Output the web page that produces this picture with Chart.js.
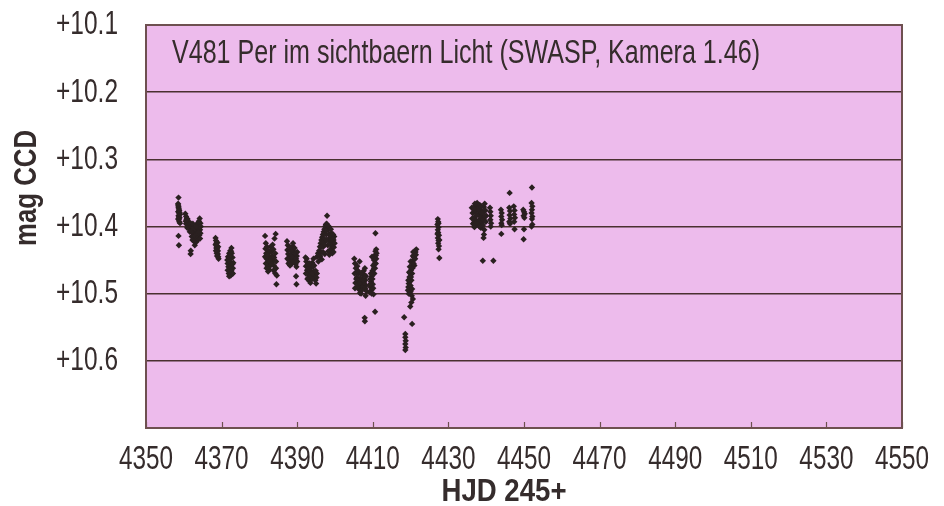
<!DOCTYPE html>
<html>
<head>
<meta charset="utf-8">
<script src="https://cdn.jsdelivr.net/npm/chart.js@4.4.1/dist/chart.umd.min.js"></script>
<style>
  body { margin: 0; background: #ffffff; }
  #wrap { width: 944px; height: 506px; }
</style>
</head>
<body>
<div id="wrap"><canvas id="myChart" width="944" height="506"></canvas></div>
<script>
'use strict';

let obs = [
  // night 4358/59
  [4358.6,10.357],[4358.5,10.366],[4358.6,10.370],[4358.7,10.374],[4358.5,10.378],[4358.8,10.381],[4358.6,10.384],[4358.9,10.387],
  [4358.7,10.390],[4358.8,10.393],[4359.0,10.395],[4358.6,10.372],[4358.9,10.379],[4358.6,10.414],[4358.7,10.428],
  [4358.5,10.368],[4358.8,10.376],[4358.7,10.386],[4358.5,10.389],[4359.0,10.382],
  // 4360 - 4364
  [4360.4,10.381],[4360.6,10.385],[4360.8,10.388],[4360.5,10.392],[4360.9,10.395],[4361.1,10.398],[4361.3,10.401],[4361.5,10.404],
  [4360.7,10.390],[4361.2,10.393],[4360.6,10.396],[4361.0,10.389],[4361.4,10.396],[4360.9,10.402],
  [4361.8,10.395],[4362.0,10.400],[4362.2,10.405],[4362.4,10.410],[4362.6,10.414],[4362.8,10.418],[4363.0,10.421],[4363.2,10.416],
  [4363.4,10.410],[4363.6,10.404],[4363.8,10.398],[4364.0,10.392],[4364.2,10.388],[4364.4,10.395],[4364.3,10.405],[4364.1,10.413],
  [4363.9,10.419],[4362.5,10.402],[4363.1,10.408],[4363.5,10.396],[4362.9,10.412],[4361.6,10.408],[4362.1,10.415],[4363.3,10.423],
  [4364.5,10.400],[4362.9,10.428],[4361.8,10.441],[4361.85,10.436],
  [4362.3,10.420],[4362.7,10.422],[4363.0,10.414],[4363.7,10.412],[4364.4,10.410],[4364.0,10.402],[4363.6,10.418],[4362.4,10.396],
  [4362.0,10.408],[4363.2,10.400],[4363.9,10.408],[4364.3,10.418],
  // 4368 - 4373
  [4368.4,10.417],[4368.5,10.421],[4368.6,10.425],[4368.7,10.429],[4368.8,10.433],[4368.9,10.437],[4369.0,10.441],[4369.1,10.445],
  [4369.2,10.448],[4368.6,10.432],[4368.9,10.424],[4369.0,10.436],[4368.7,10.440],
  [4368.5,10.436],[4368.8,10.444],[4369.1,10.430],[4368.4,10.427],
  [4372.6,10.432],[4372.3,10.436],[4372.0,10.440],[4371.7,10.445],[4371.5,10.450],[4371.6,10.455],[4371.8,10.460],[4372.0,10.465],
  [4372.2,10.469],[4372.4,10.473],[4372.8,10.470],[4373.0,10.462],[4373.1,10.454],[4372.9,10.446],[4372.7,10.440],[4372.4,10.448],
  [4372.1,10.452],[4372.5,10.458],[4372.3,10.463],[4371.9,10.470],
  [4371.6,10.465],[4372.0,10.474],[4372.6,10.466],[4372.9,10.456],[4372.2,10.444],[4371.8,10.449],[4373.0,10.470],[4372.5,10.437],
  // 4381 - 4385
  [4381.5,10.414],[4381.7,10.425],[4381.6,10.433],[4381.8,10.440],[4381.9,10.448],[4382.0,10.455],[4382.2,10.460],[4382.4,10.452],
  [4382.6,10.445],[4382.8,10.438],[4383.0,10.430],[4383.2,10.437],[4383.4,10.444],[4383.6,10.451],[4383.8,10.458],[4384.0,10.464],
  [4384.2,10.470],[4384.4,10.462],[4382.3,10.467],[4383.1,10.448],[4382.5,10.436],[4383.5,10.427],[4384.0,10.418],[4384.3,10.411],
  [4383.7,10.434],[4382.9,10.458],[4384.5,10.486],[4384.6,10.473],
  [4381.5,10.445],[4381.7,10.455],[4382.1,10.442],[4382.7,10.452],[4383.3,10.456],[4383.9,10.446],[4384.2,10.440],[4384.4,10.452],
  [4382.0,10.430],[4383.8,10.466],[4382.6,10.464],[4381.9,10.462],
  // 4387 - 4390
  [4387.3,10.422],[4387.5,10.428],[4387.4,10.435],[4387.6,10.441],[4387.8,10.447],[4388.0,10.453],[4388.2,10.449],[4388.4,10.442],
  [4388.6,10.436],[4388.8,10.430],[4389.0,10.437],[4389.2,10.444],[4389.4,10.450],[4389.6,10.456],[4389.8,10.460],[4390.0,10.452],
  [4389.9,10.444],[4388.1,10.458],[4388.9,10.425],[4389.3,10.432],[4388.5,10.456],[4389.7,10.474],[4389.8,10.486],
  [4387.4,10.448],[4387.7,10.455],[4388.3,10.436],[4388.7,10.446],[4389.1,10.452],[4389.5,10.440],[4390.0,10.438],[4388.0,10.430],
  [4389.7,10.448],
  // 4392 - 4395
  [4392.2,10.446],[4392.4,10.452],[4392.3,10.459],[4392.6,10.465],[4392.8,10.470],[4393.0,10.476],[4393.2,10.481],[4393.4,10.472],
  [4393.6,10.466],[4393.8,10.460],[4394.0,10.454],[4394.2,10.460],[4394.4,10.467],[4394.6,10.474],[4394.8,10.480],[4395.0,10.485],
  [4393.1,10.463],[4393.7,10.476],[4394.3,10.448],[4392.9,10.456],[4395.2,10.470],
  [4392.3,10.470],[4392.7,10.478],[4393.3,10.455],[4393.9,10.470],[4394.5,10.458],[4394.9,10.466],[4395.1,10.476],[4392.5,10.448],
  [4393.5,10.484],[4394.1,10.478],
  // 4395 - 4400
  [4395.2,10.445],[4395.5,10.440],[4395.8,10.436],[4396.0,10.430],[4396.2,10.425],[4396.4,10.420],[4396.6,10.416],[4396.8,10.412],
  [4397.0,10.408],[4397.2,10.404],[4397.4,10.400],[4397.6,10.397],[4397.8,10.396],[4398.0,10.399],[4398.2,10.405],[4398.4,10.411],
  [4398.6,10.417],[4398.8,10.423],[4399.0,10.428],[4399.2,10.432],[4399.4,10.426],[4399.6,10.420],[4399.8,10.415],[4396.3,10.438],
  [4396.9,10.430],[4397.5,10.422],[4398.1,10.428],[4398.7,10.435],[4399.3,10.440],[4396.5,10.449],[4397.1,10.418],[4397.7,10.412],
  [4398.3,10.420],[4399.1,10.410],[4397.9,10.384],[4398.5,10.442],[4399.7,10.431],[4397.3,10.441],
  [4395.6,10.452],[4396.1,10.444],[4396.7,10.424],[4397.2,10.428],[4397.8,10.420],[4398.2,10.437],[4398.9,10.415],[4399.5,10.412],
  [4399.9,10.425],[4399.6,10.438],[4396.4,10.430],[4397.6,10.406],[4398.4,10.400],[4398.9,10.404],[4399.4,10.418],[4396.8,10.438],
  [4395.9,10.445],
  // 4405 - 4411
  [4405.1,10.448],[4405.3,10.455],[4405.5,10.462],[4405.6,10.469],[4405.8,10.476],[4406.0,10.482],[4406.2,10.488],[4406.4,10.494],
  [4406.6,10.499],[4406.8,10.492],[4407.0,10.485],[4407.2,10.478],[4407.4,10.472],[4407.6,10.466],[4407.8,10.472],[4408.0,10.480],
  [4408.2,10.488],[4408.3,10.496],[4408.1,10.503],[4406.3,10.470],[4406.7,10.477],[4405.9,10.459],[4407.3,10.490],[4407.7,10.484],
  [4405.4,10.484],[4407.9,10.541],[4407.85,10.536],[4406.5,10.452],
  [4405.2,10.470],[4405.6,10.478],[4405.9,10.490],[4406.1,10.466],[4406.5,10.484],[4406.9,10.470],[4407.1,10.495],[4407.5,10.480],
  [4407.9,10.462],[4408.2,10.474],[4408.0,10.492],[4405.3,10.492],[4406.9,10.500],
  [4409.2,10.498],[4409.4,10.490],[4409.5,10.482],[4409.7,10.474],[4409.9,10.466],[4410.1,10.458],[4410.3,10.450],[4410.5,10.443],
  [4410.7,10.437],[4410.9,10.434],[4411.0,10.440],[4409.6,10.495],[4410.0,10.486],[4410.4,10.470],[4410.8,10.455],[4409.3,10.478],
  [4410.2,10.501],[4410.6,10.462],[4410.7,10.410],[4410.6,10.527],[4409.8,10.445],
  [4409.3,10.486],[4409.5,10.470],[4409.9,10.478],[4410.3,10.462],[4410.5,10.455],[4410.9,10.448],[4409.7,10.500],[4410.1,10.492],
  [4410.8,10.443],
  // 4418 - 4422 (minimum)
  [4421.5,10.434],[4421.3,10.438],[4421.1,10.442],[4420.9,10.446],[4420.7,10.450],[4420.5,10.455],[4420.3,10.460],[4420.1,10.465],
  [4419.9,10.470],[4419.7,10.475],[4419.6,10.480],[4419.5,10.485],[4419.4,10.490],[4419.3,10.495],[4419.5,10.500],[4420.0,10.452],
  [4420.4,10.470],[4419.8,10.460],[4420.2,10.480],[4419.7,10.490],[4420.6,10.444],[4421.0,10.458],[4420.0,10.497],[4420.3,10.503],
  [4420.6,10.508],[4420.2,10.513],[4419.9,10.519],[4418.3,10.535],[4420.4,10.545],[4418.6,10.560],[4418.6,10.565],[4418.7,10.570],
  [4418.6,10.575],[4418.7,10.580],[4418.6,10.584],
  [4419.6,10.468],[4419.8,10.482],[4420.1,10.475],[4420.5,10.462],[4420.8,10.455],[4421.2,10.448],[4419.4,10.480],[4420.0,10.488],
  [4420.4,10.493],[4420.7,10.438],[4421.4,10.442],
  // 4427
  [4427.2,10.389],[4427.3,10.393],[4427.1,10.397],[4427.4,10.401],[4427.2,10.405],[4427.3,10.409],[4427.5,10.413],[4427.2,10.417],
  [4427.4,10.421],[4427.3,10.425],[4427.5,10.429],[4427.4,10.434],[4427.6,10.447],[4427.1,10.411],[4427.4,10.395],[4427.6,10.420],
  // 4436 - 4442
  [4436.2,10.372],[4436.4,10.380],[4436.6,10.388],[4436.8,10.394],[4437.0,10.386],[4437.2,10.378],[4437.4,10.370],[4437.6,10.365],
  [4437.8,10.374],[4438.0,10.382],[4438.2,10.390],[4438.4,10.397],[4438.6,10.402],[4438.8,10.395],[4439.0,10.387],[4439.2,10.379],
  [4439.4,10.371],[4439.6,10.366],[4439.8,10.376],[4440.0,10.384],[4436.5,10.396],[4437.1,10.398],[4437.9,10.392],[4438.5,10.375],
  [4439.1,10.398],[4439.5,10.405],[4439.4,10.412],[4439.3,10.417],[4439.1,10.451],[4441.9,10.451],[4438.3,10.368],[4437.3,10.391],
  [4436.9,10.375],
  [4436.3,10.388],[4436.6,10.372],[4437.2,10.395],[4437.5,10.383],[4437.7,10.397],[4438.1,10.376],[4438.6,10.386],[4438.9,10.380],
  [4438.7,10.370],[4439.2,10.390],[4439.7,10.385],[4439.9,10.393],[4437.0,10.366],[4436.9,10.401],[4438.2,10.400],
  [4441.0,10.372],[4441.1,10.378],[4441.2,10.384],[4441.1,10.390],[4441.3,10.395],[4441.2,10.400],
  // 4444 - 4452
  [4443.9,10.375],[4444.1,10.380],[4444.0,10.385],[4444.2,10.390],[4444.0,10.395],[4444.1,10.398],[4444.0,10.411],
  [4446.2,10.350],[4446.1,10.372],[4446.3,10.377],[4446.2,10.383],[4446.4,10.388],[4446.1,10.393],[4447.3,10.370],[4447.5,10.376],
  [4447.4,10.382],[4447.6,10.387],[4447.4,10.393],[4447.5,10.404],[4446.3,10.396],
  [4449.8,10.375],[4450.0,10.378],[4450.2,10.381],[4449.9,10.384],[4450.1,10.387],[4450.0,10.404],[4449.9,10.419],
  [4452.1,10.342],[4452.0,10.365],[4452.2,10.370],[4452.1,10.375],[4452.0,10.380],[4452.2,10.385],[4452.1,10.389],[4452.0,10.400],
  [4452.2,10.397]
];

let xMin = 4350, xMax = 4550, xStep = 20;
let yMin = 10.1, yMax = 10.7, yStep = 0.1;
let yLabelMax = 10.6;
let chartTitle = 'V481 Per im sichtbaern Licht (SWASP, Kamera 1.46)';
let xTitle = 'HJD 245+';
let yTitle = 'mag CCD';

let fontFam = '"Liberation Sans", Arial, sans-serif';
let textColor = '#352c2c';

// draws text squeezed horizontally (the original uses a condensed face)
function narrowText(ctx, txt, x, y, sx, align) {
  ctx.save();
  ctx.translate(x, y);
  ctx.scale(sx, 1);
  ctx.textAlign = align;
  ctx.fillText(txt, 0, 0);
  ctx.restore();
}

function fitText(ctx, txt, x, y, width, align) {
  let w = ctx.measureText(txt).width;
  narrowText(ctx, txt, x, y, width / w, align);
}

let framePlugin = {
  id: 'frame',
  beforeDraw(chart) {
    let a = chart.chartArea, ctx = chart.ctx;
    ctx.save();
    ctx.fillStyle = '#edbbec';
    ctx.fillRect(a.left, a.top, a.right - a.left, a.bottom - a.top);
    ctx.restore();
  },
  afterDraw(chart) {
    let a = chart.chartArea, ctx = chart.ctx;
    let xs = chart.scales.x, ys = chart.scales.y;
    ctx.save();
    ctx.strokeStyle = '#6e5050';
    ctx.lineWidth = 2;
    ctx.strokeRect(a.left, a.top, a.right - a.left, a.bottom - a.top);
    ctx.lineWidth = 1.2;
    xs.ticks.forEach(t => {
      let px = Math.round(xs.getPixelForValue(t.value)) + 0.5;
      ctx.beginPath();
      ctx.moveTo(px, a.bottom);
      ctx.lineTo(px, a.bottom - 6);
      ctx.stroke();
    });

    // tick labels
    ctx.fillStyle = textColor;
    ctx.font = '34px ' + fontFam;
    ctx.textBaseline = 'middle';
    xs.ticks.forEach(t => {
      narrowText(ctx, String(t.value), xs.getPixelForValue(t.value), 460, 0.715, 'center');
    });
    ys.ticks.forEach(t => {
      if (t.value > yLabelMax + 0.01) return;
      narrowText(ctx, '+' + t.value.toFixed(1), 118, ys.getPixelForValue(t.value), 0.72, 'right');
    });

    // titles
    ctx.font = '33px ' + fontFam;
    fitText(ctx, chartTitle, a.left + 26, a.top + 29, 588, 'left');
    ctx.font = 'bold 32px ' + fontFam;
    fitText(ctx, xTitle, 504, 492, 125, 'center');
    ctx.translate(27, 188);
    ctx.rotate(-Math.PI / 2);
    fitText(ctx, yTitle, 0, 0, 116, 'center');
    ctx.restore();
  }
};

let ctx = document.getElementById('myChart').getContext('2d');
let myChart = new Chart(ctx, {
  type: 'scatter',
  data: {
    datasets: [{
      label: 'V481 Per',
      data: obs.map(p => ({ x: p[0], y: p[1] })),
      pointStyle: 'rectRot',
      pointRadius: 3.2,
      borderWidth: 0,
      backgroundColor: '#2a2020'
    }]
  },
  options: {
    responsive: false,
    animation: false,
    layout: { padding: { top: 25, right: 42, left: 0, bottom: 0 } },
    plugins: { legend: { display: false }, tooltip: { enabled: false } },
    scales: {
      x: {
        type: 'linear',
        min: xMin,
        max: xMax,
        afterFit: s => { s.height = 78; },
        ticks: { stepSize: xStep, autoSkip: false, display: false },
        grid: { display: false },
        border: { display: false }
      },
      y: {
        reverse: true,
        min: yMin,
        max: yMax,
        afterFit: s => { s.width = 146; },
        ticks: { stepSize: yStep, display: false },
        grid: { color: '#4a3030', lineWidth: 1.5, drawTicks: false },
        border: { display: false }
      }
    }
  },
  plugins: [framePlugin]
});
</script>
</body>
</html>
